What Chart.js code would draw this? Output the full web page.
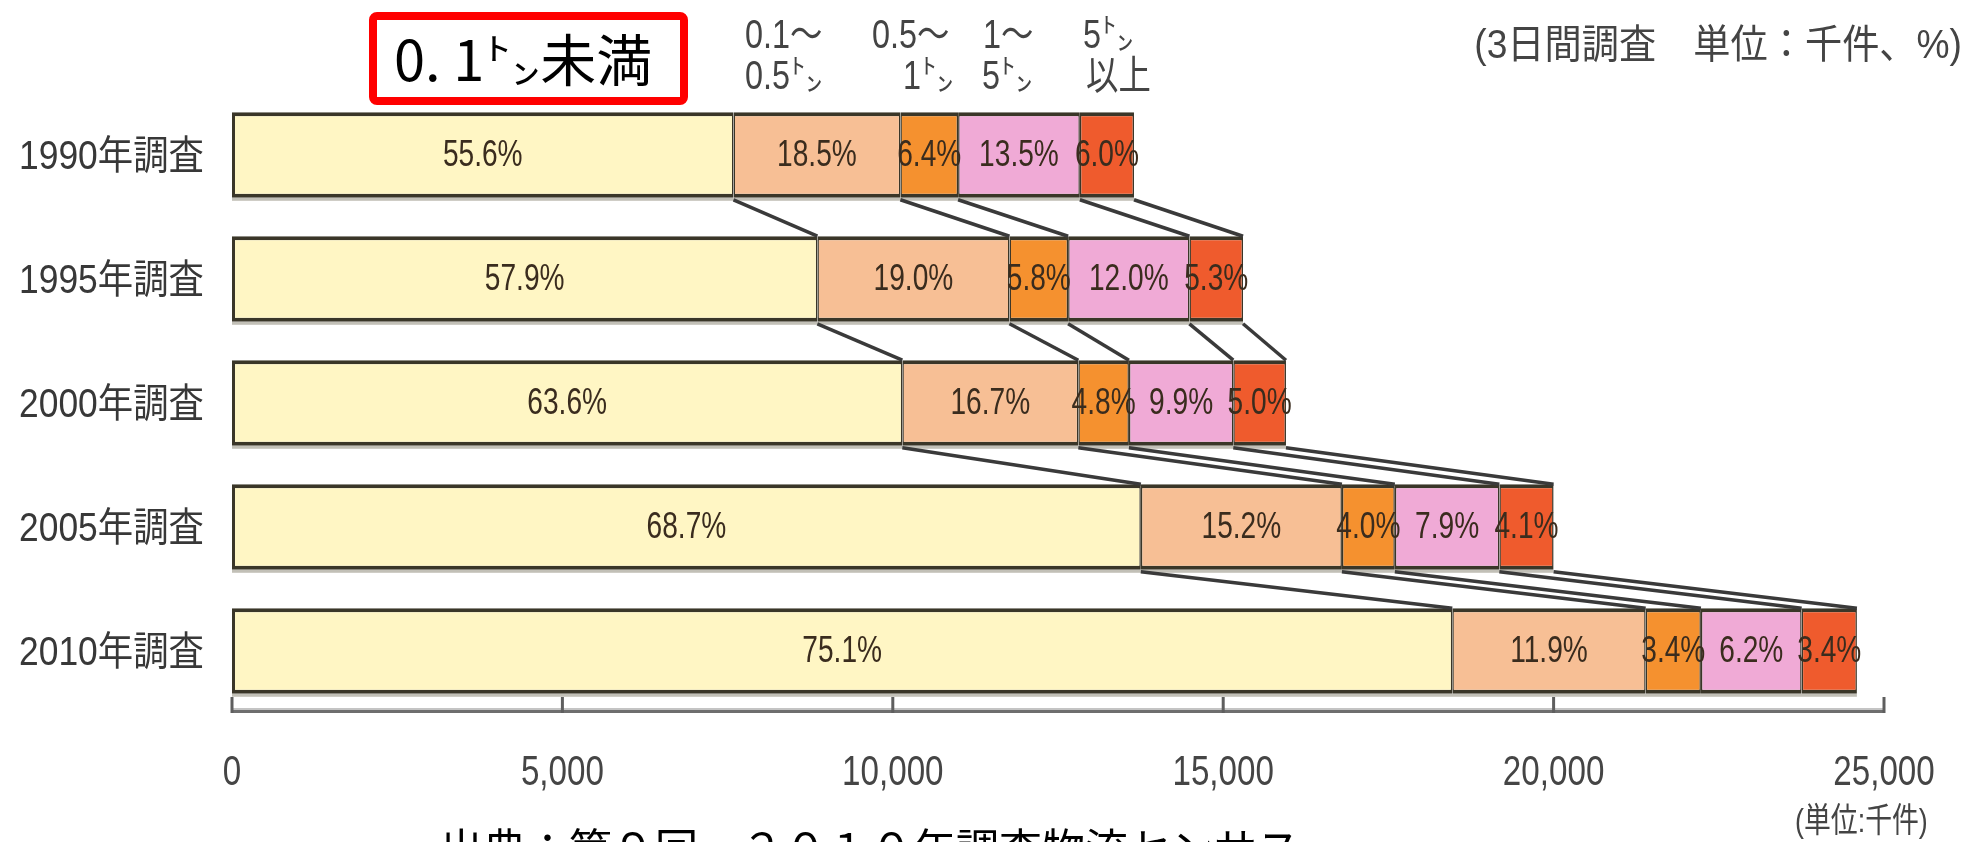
<!DOCTYPE html>
<html lang="ja">
<head>
<meta charset="utf-8">
<script src="https://cdn.jsdelivr.net/npm/chart.js@4"></script>
<style>
  html, body { margin: 0; padding: 0; background: #fff; }
</style>
</head>
<body>
<canvas id="freight" width="1966" height="842"></canvas>
<script>
// 物流センサス 3日間調査：重量帯別の流動件数（千件）と構成比（%）
const surveys = ['1990年調査', '1995年調査', '2000年調査', '2005年調査', '2010年調査'];
const totals = [13650, 15300, 15950, 20020, 24590];
const sizeClasses = ['0.1㌧未満', '0.1〜0.5㌧', '0.5〜1㌧', '1〜5㌧', '5㌧以上'];
const under01 = [55.6, 57.9, 63.6, 68.7, 75.1];
const from01to05 = [18.5, 19.0, 16.7, 15.2, 11.9];
const from05to1 = [6.4, 5.8, 4.8, 4.0, 3.4];
const from1to5 = [13.5, 12.0, 9.9, 7.9, 6.2];
const over5 = [6.0, 5.3, 5.0, 4.1, 3.4];
const xTicks = [0, 5000, 10000, 15000, 20000, 25000];

const colors = ['#fff6c4', '#f7bf95', '#f5912f', '#f0aad6', '#ef5b2d'];
const sans = "'Liberation Sans', 'Noto Sans CJK JP', sans-serif";
const gothic = "'Noto Sans CJK JP', sans-serif";

const shares = [under01, from01to05, from05to1, from1to5, over5];

// 件数 = 総件数 × 構成比
function segmentValues(pcts) {
  return pcts.map((p, i) => totals[i] * p / 100);
}

// 長体（横に詰めた）文字
function narrowText(c, text, x, y, size, sx, align) {
  c.save();
  c.font = size + 'px ' + sans;
  c.textAlign = align || 'left';
  c.textBaseline = 'middle';
  c.translate(x, y);
  c.scale(sx, 1);
  c.fillText(text, 0, 0);
  c.restore();
}

const datasets = shares.map((pcts, k) => ({
  label: sizeClasses[k],
  data: segmentValues(pcts),
  pcts: pcts,
  backgroundColor: colors[k],
  borderColor: '#3a3628',
  borderWidth: { top: 4, bottom: 4, left: k === 0 ? 3 : 1.5, right: 1.5 },
  borderSkipped: false,
  barPercentage: 0.69,
  categoryPercentage: 1
}));

// 棒の下の薄い影
const barShadow = {
  id: 'barShadow',
  beforeDatasetsDraw(chart) {
    const c = chart.ctx;
    const last = chart.data.datasets.length - 1;
    c.save();
    c.fillStyle = 'rgba(120, 116, 96, 0.45)';
    chart.getDatasetMeta(last).data.forEach(bar => {
      const first = chart.getDatasetMeta(0).data[0];
      c.fillRect(first.base, bar.y + bar.height / 2, bar.x - first.base, 3);
    });
    c.restore();
  }
};

// 調査年ごとの区切りを斜線でつなぐ
const connectors = {
  id: 'connectors',
  afterDatasetsDraw(chart) {
    const c = chart.ctx;
    c.save();
    c.strokeStyle = '#3a3a3a';
    c.lineWidth = 3.5;
    for (let i = 0; i < surveys.length - 1; i++) {
      chart.data.datasets.forEach((ds, k) => {
        const meta = chart.getDatasetMeta(k);
        const a = meta.data[i];
        const b = meta.data[i + 1];
        c.beginPath();
        c.moveTo(a.x, a.y + a.height / 2 + 2);
        c.lineTo(b.x, b.y - b.height / 2);
        c.stroke();
      });
    }
    c.restore();
  }
};

// 各区分の構成比ラベル
const shareLabels = {
  id: 'shareLabels',
  afterDatasetsDraw(chart) {
    const c = chart.ctx;
    c.save();
    c.fillStyle = '#3a2c1e';
    chart.data.datasets.forEach((ds, k) => {
      chart.getDatasetMeta(k).data.forEach((bar, i) => {
        const x = (bar.base + bar.x) / 2;
        narrowText(c, ds.pcts[i].toFixed(1) + '%', x, bar.y + 1, 37, 0.76, 'center');
      });
    });
    c.restore();
  }
};

// 軸線、上向きの目盛り、目盛りラベル
const axisLine = {
  id: 'axisLine',
  afterDraw(chart) {
    const c = chart.ctx;
    const area = chart.chartArea;
    const xs = chart.scales.x;
    const ys = chart.scales.y;
    c.save();
    c.fillStyle = '#c4c4c4';
    c.fillRect(area.left, area.bottom - 5, area.right - area.left, 2);
    c.fillStyle = '#6e6e6e';
    c.fillRect(area.left, area.bottom - 3, area.right - area.left, 3);
    c.strokeStyle = '#5e5e5e';
    c.lineWidth = 3;
    xs.ticks.forEach(t => {
      const x = xs.getPixelForValue(t.value);
      c.beginPath();
      c.moveTo(x, area.bottom - 16);
      c.lineTo(x, area.bottom);
      c.stroke();
    });

    c.fillStyle = '#454545';
    xs.ticks.forEach(t => {
      const label = t.label !== undefined ? t.label : t.value.toLocaleString('en-US');
      narrowText(c, label, xs.getPixelForValue(t.value), area.bottom + 60, 42, 0.79, 'center');
    });

    c.fillStyle = '#383838';
    ys.ticks.forEach((t, i) => {
      narrowText(c, ys.getLabelForValue(t.value), area.left - 28, ys.getPixelForTick(i) + 3, 40, 0.885, 'right');
    });
    c.restore();
  }
};

// 区分名、単位、出典などの文字
const notes = {
  id: 'notes',
  afterDraw(chart) {
    const c = chart.ctx;
    c.save();

    // 0.1トン未満の囲み
    c.fillStyle = '#fff';
    c.strokeStyle = '#ff0000';
    c.lineWidth = 8;
    c.beginPath();
    c.roundRect(373, 16, 311, 85, 4);
    c.fill();
    c.stroke();
    c.fillStyle = '#000';
    c.font = '56px ' + gothic;
    c.textAlign = 'left';
    c.textBaseline = 'alphabetic';
    c.fillText('0. 1㌧未満', 394, 81);

    // 区分見出し（2段）
    c.fillStyle = '#444';
    const heads = [
      ['0.1〜', 745, 37], ['0.5㌧', 745, 78],
      ['0.5〜', 872, 37], ['1㌧', 903, 78],
      ['1〜', 983, 37], ['5㌧', 982, 78],
      ['5㌧', 1083, 37], ['以上', 1086, 78]
    ];
    heads.forEach(([t, x, y]) => narrowText(c, t, x, y, 40, 0.81, 'left'));

    narrowText(c, '(3日間調査　単位：千件、%)', 1962, 47, 40, 0.93, 'right');
    narrowText(c, '(単位:千件)', 1795, 823, 34, 0.79, 'left');

    c.fillStyle = '#000';
    c.font = '43px ' + gothic;
    c.textAlign = 'left';
    c.textBaseline = 'alphabetic';
    c.fillText('出典：第９回　２０１０年調査物流センサス', 440, 865);
    c.restore();
  }
};

new Chart(document.getElementById('freight'), {
  type: 'bar',
  data: { labels: surveys, datasets: datasets },
  options: {
    indexAxis: 'y',
    responsive: false,
    animation: false,
    devicePixelRatio: 1,
    layout: { padding: { top: 93, right: 82, bottom: 0, left: 0 } },
    plugins: {
      legend: { display: false },
      tooltip: { enabled: false }
    },
    scales: {
      x: {
        stacked: true,
        min: 0,
        max: 25000,
        afterBuildTicks: s => { s.ticks = xTicks.map(v => ({ value: v })); },
        afterFit: s => { s.height = 129; },
        grid: { display: false },
        border: { display: false },
        ticks: {
          display: false,
          callback: v => v.toLocaleString('en-US')
        }
      },
      y: {
        stacked: true,
        afterFit: s => { s.width = 232; },
        grid: { display: false },
        border: { display: false },
        ticks: { display: false }
      }
    }
  },
  plugins: [barShadow, connectors, shareLabels, axisLine, notes]
});
</script>
</body>
</html>
